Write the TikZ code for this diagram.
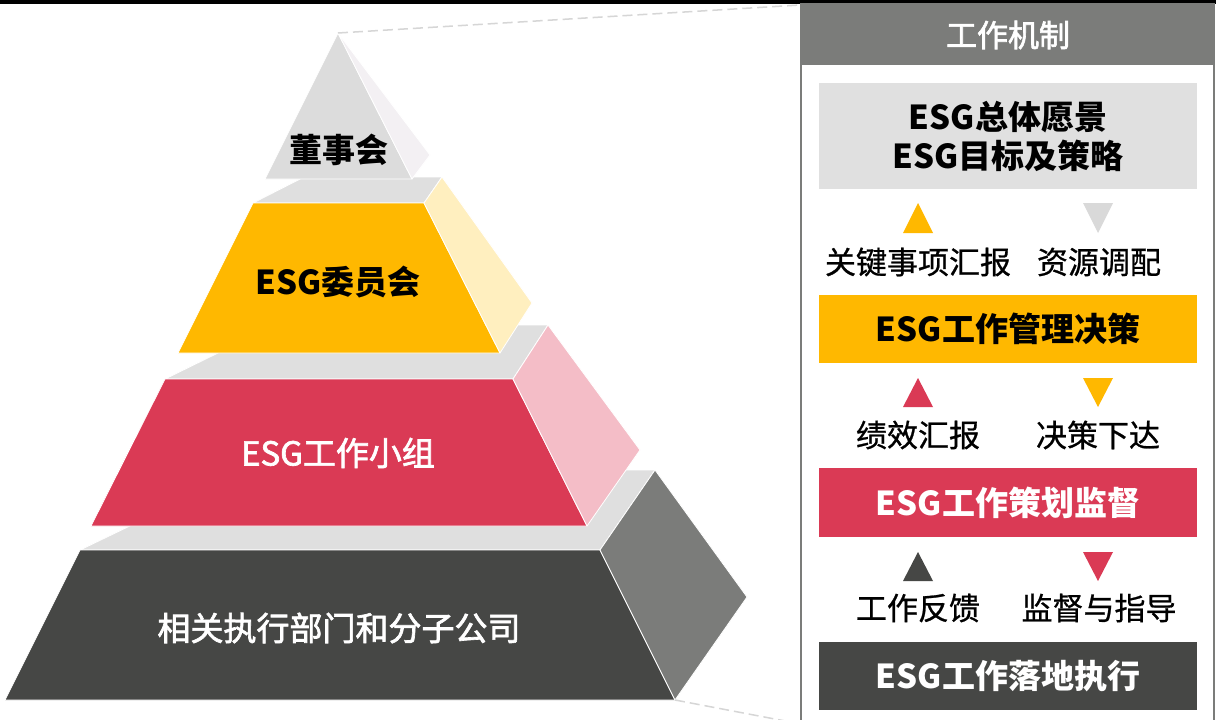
\documentclass[tikz,border=0pt]{standalone}
\usepackage{fontspec}
\setmainfont{Noto Sans CJK SC}
\newfontfamily\cjkmed[FakeBold=2]{Noto Sans CJK SC}
\newfontfamily\cjklbl[FakeBold=0.8]{Noto Sans CJK SC}
\definecolor{ygold}{HTML}{FFB800}
\definecolor{yfaint}{HTML}{FFEFBF}
\definecolor{rred}{HTML}{DA3A55}
\definecolor{rpink}{HTML}{F4BDC7}
\definecolor{dk}{HTML}{464745}
\definecolor{dkside}{HTML}{7B7C7A}
\definecolor{shelfc}{HTML}{DFDFDF}
\definecolor{topfront}{HTML}{DCDCDC}
\definecolor{topside}{HTML}{F3F0F3}
\definecolor{dashc}{HTML}{D6D6D6}
\definecolor{lightbox}{HTML}{E0E0E0}
\definecolor{downgray}{HTML}{D9D9D9}
\tikzset{
  face/.style={draw=white,line width=0.8pt,line join=round},
  pbold/.style={inner sep=0pt,font=\fontsize{33}{38}\selectfont\bfseries,text=black},
  pwhite/.style={inner sep=0pt,font=\cjkmed\fontsize{33}{38}\selectfont,text=white},
  mbox/.style={minimum width=378pt,inner sep=0pt,font=\fontsize{33}{39}\selectfont\bfseries,align=center},
  lbl/.style={inner sep=0pt,font=\cjklbl\fontsize{31}{36}\selectfont,text=black},
  linkdash/.style={draw=dashc,line width=1.5pt,dash pattern=on 10pt off 5pt},
}
\begin{document}
\begin{tikzpicture}[x=1pt,y=-1pt]
\useasboundingbox (0,0) rectangle (1216,720);
\fill[white] (0,0) rectangle (1216,720);
% pyramid reference points
\coordinate (apex) at (338,33);
\coordinate (base) at (675,700);
% ---- bottom tier
\fill[shelfc,face] (80,550) -- (600,550) -- (655,470) -- (246,470) -- cycle;
\fill[dk,face] (80,550) -- (600,550) -- (675,700) -- (5,700) -- cycle;
\fill[dkside,face] (600,550) -- (655,470) -- (747,597) -- (675,700) -- cycle;
% ---- red tier
\fill[shelfc,face] (165,379) -- (513,379) -- (548,325) -- (275,325) -- cycle;
\fill[rred,face] (165,379) -- (513,379) -- (587,526) -- (91,526) -- cycle;
\fill[rpink,face] (513,379) -- (548,325) -- (640,450) -- (587,526) -- cycle;
% ---- yellow tier
\fill[shelfc,face] (253,203) -- (424,203) -- (442,177) -- (304,177) -- cycle;
\fill[ygold,face] (253,203) -- (424,203) -- (500,353) -- (178,353) -- cycle;
\fill[yfaint,face] (424,203) -- (442,177) -- (532,303) -- (500,353) -- cycle;
% ---- top
\fill[topfront,face] (apex) -- (412,179) -- (265,179) -- cycle;
\fill[topside,face] (apex) -- (430,155) -- (412,179) -- cycle;
% pyramid labels
\node[pbold] (board) at (339,150) {董事会};
\node[pbold] (comm) at (338,282) {ESG委员会};
\node[pwhite] (group) at (338,453) {ESG工作小组};
\node[pwhite] (depts) at (339,628) {相关执行部门和分子公司};
% top black band
\fill[black] (0,0) rectangle (1216,4);
% ---- panel
\fill[dkside] (801,4) rectangle (1214,65);
\draw[dkside,line width=2pt] (801,4) rectangle (1214,740);
\coordinate (ptop) at (800,5);
\coordinate (pbot) at (801,724);
\node[inner sep=0pt,text=white,font=\cjkmed\fontsize{31}{36}\selectfont] (head) at (1008,35) {工作机制};
\node[mbox,fill=lightbox,minimum height=106pt,text=black] (vision) at (1008,136) {ESG总体愿景\\ESG目标及策略};
\node[mbox,fill=ygold,minimum height=68pt,text=black] (mgmt) at (1008,329) {ESG工作管理决策};
\node[mbox,fill=rred,minimum height=69pt,text=white] (plan) at (1008,502.5) {ESG工作策划监督};
\node[mbox,fill=dk,minimum height=68pt,text=white] (exec) at (1008,676) {ESG工作落地执行};
% triangles and labels
\fill[ygold] (903,233) -- (933,233) -- (918,203) -- cycle;
\fill[downgray] (1083,203) -- (1113,203) -- (1098,233) -- cycle;
\node[lbl] (l1a) at (918,262) {关键事项汇报};
\node[lbl] (l1b) at (1099,262) {资源调配};
\fill[rred] (903,407) -- (933,407) -- (918,378) -- cycle;
\fill[ygold] (1083,378) -- (1113,378) -- (1098,407) -- cycle;
\node[lbl] (l2a) at (918,435) {绩效汇报};
\node[lbl] (l2b) at (1098,435) {决策下达};
\fill[dk] (903,581) -- (933,581) -- (918,552) -- cycle;
\fill[rred] (1083,552) -- (1113,552) -- (1098,581) -- cycle;
\node[lbl] (l3a) at (918,608) {工作反馈};
\node[lbl] (l3b) at (1099,608) {监督与指导};
% dashed links
\draw[linkdash] (apex) -- (ptop);
\draw[linkdash] (base) -- (pbot);
\end{tikzpicture}
\end{document}
